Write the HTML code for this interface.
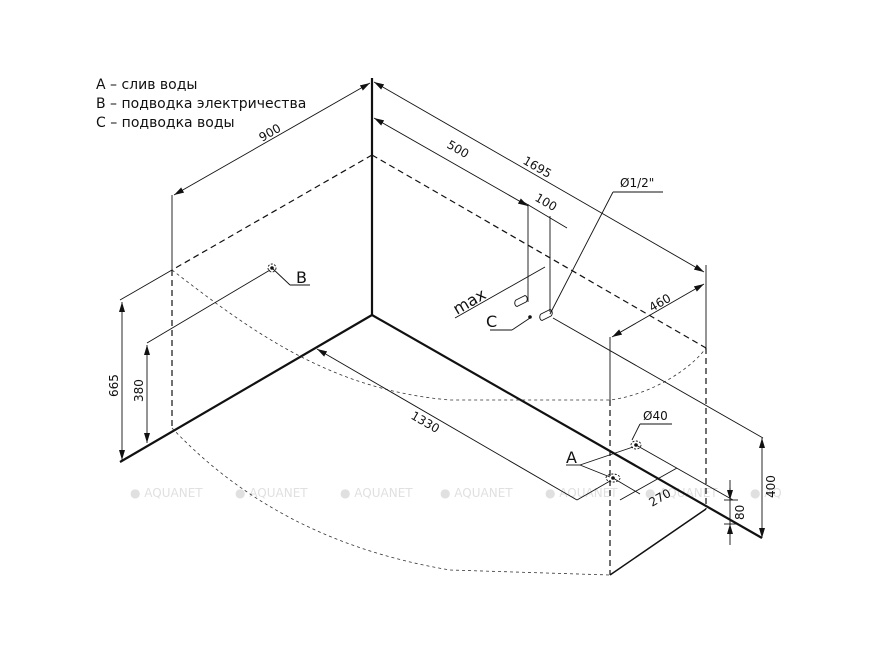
<!DOCTYPE html>
<html><head><meta charset="utf-8"><style>
html,body{margin:0;padding:0;background:#fff}
svg{display:block}
text{font-family:"DejaVu Sans","Liberation Sans",sans-serif;fill:#111}
text.wm{fill:#e0e0e0}
</style></head><body>
<svg width="872" height="654" viewBox="0 0 872 654" xmlns="http://www.w3.org/2000/svg">
<defs>
<marker id="a" viewBox="0 0 10 6" refX="10" refY="3" markerWidth="10" markerHeight="6" orient="auto-start-reverse" markerUnits="userSpaceOnUse"><path d="M0,0 L10,3 L0,6 z" fill="#111"/></marker>
</defs>
<g font-size="14">
<text x="96" y="89">A – слив воды</text>
<text x="96" y="108">B – подводка электричества</text>
<text x="96" y="127">C – подводка воды</text>
</g>
<g font-size="12">
<text class="wm" x="130" y="497">● AQUANET</text><text class="wm" x="235" y="497">● AQUANET</text><text class="wm" x="340" y="497">● AQUANET</text><text class="wm" x="440" y="497">● AQUANET</text><text class="wm" x="545" y="497">● AQUANET</text><text class="wm" x="645" y="497">● AQUANET</text><text class="wm" x="750" y="497">● AQ</text>
</g>
<g stroke="#111" stroke-width="2.2" fill="none">
<line x1="372" y1="78" x2="372" y2="315"/>
<line x1="372" y1="315" x2="120" y2="462"/>
<line x1="372" y1="315" x2="762" y2="538"/>
<line x1="610" y1="575" x2="706" y2="509" stroke-width="1.5"/>
</g>
<g stroke="#111" stroke-width="1.2" fill="none" stroke-dasharray="6,4">
<line x1="372" y1="155" x2="172" y2="270"/>
<line x1="372" y1="155" x2="706" y2="348"/>
<line x1="172" y1="270" x2="172" y2="428"/>
<line x1="706" y1="348" x2="706" y2="509"/>
<line x1="610" y1="400" x2="610" y2="575"/>
</g>
<g stroke="#333" stroke-width="0.8" fill="none" stroke-dasharray="3,3">
<path d="M172,270 C250,330 330,390 450,400 L610,400 C650,395 690,370 706,348"/>
<path d="M172,428 C240,500 330,550 450,570 L610,575"/>
</g>
<g stroke="#111" stroke-width="0.9" fill="none">
<line x1="370" y1="83" x2="174" y2="195" marker-start="url(#a)" marker-end="url(#a)"/>
<line x1="172" y1="195" x2="172" y2="270"/>
<line x1="374" y1="82" x2="704" y2="272" marker-start="url(#a)" marker-end="url(#a)"/>
<line x1="374" y1="118" x2="528" y2="206" marker-start="url(#a)" marker-end="url(#a)"/>
<line x1="706" y1="265" x2="706" y2="348"/>
<line x1="120" y1="300" x2="172" y2="270"/>
<line x1="122" y1="302" x2="122" y2="460" marker-start="url(#a)" marker-end="url(#a)"/>
<line x1="147" y1="343" x2="270" y2="270"/>
<line x1="147" y1="345" x2="147" y2="443" marker-start="url(#a)" marker-end="url(#a)"/>
<line x1="272" y1="268" x2="290" y2="285"/><line x1="290" y1="285" x2="310" y2="285"/>
<circle cx="272" cy="268" r="4" stroke-dasharray="2,1.5"/>
<line x1="317" y1="349" x2="577" y2="500" marker-start="url(#a)"/>
<line x1="577" y1="500" x2="610" y2="481"/>
<line x1="528" y1="204" x2="528" y2="302"/>
<line x1="550" y1="216" x2="550" y2="312"/>
<line x1="520" y1="200" x2="567" y2="228"/>
<line x1="455" y1="318" x2="545" y2="267"/>
<path d="M516,300 l8,-4 a2,3 0 0 1 2,6 l-8,4 a2,3 0 0 1 -2,-6z"/>
<path d="M541,314 l8,-4 a2,3 0 0 1 2,6 l-8,4 a2,3 0 0 1 -2,-6z"/>
<line x1="490" y1="330" x2="512" y2="330"/><line x1="512" y1="330" x2="530" y2="318"/>
<line x1="550" y1="314" x2="613" y2="192"/><line x1="613" y1="192" x2="663" y2="192"/>
<line x1="553" y1="318" x2="763" y2="438"/>
<line x1="612" y1="337" x2="704" y2="284" marker-start="url(#a)" marker-end="url(#a)"/>
<line x1="610" y1="337" x2="610" y2="400"/>
<line x1="762" y1="438" x2="762" y2="538" marker-start="url(#a)" marker-end="url(#a)"/>
<line x1="636" y1="445" x2="733" y2="500"/>
<line x1="613" y1="478" x2="640" y2="494"/>
<line x1="620" y1="500" x2="677" y2="468"/>
<line x1="730" y1="480" x2="730" y2="545"/>
<line x1="730" y1="488" x2="730" y2="500" marker-end="url(#a)"/>
<line x1="730" y1="535" x2="730" y2="524" marker-end="url(#a)"/>
<line x1="724" y1="500" x2="738" y2="500"/>
<line x1="724" y1="524" x2="738" y2="524"/>
<line x1="566" y1="465" x2="580" y2="465"/>
<line x1="580" y1="465" x2="633" y2="447"/>
<line x1="580" y1="465" x2="610" y2="477"/>
<line x1="632" y1="440" x2="640" y2="424"/><line x1="640" y1="424" x2="672" y2="424"/>
<ellipse cx="636" cy="445" rx="5" ry="4" stroke-dasharray="2,1.5"/>
<ellipse cx="613" cy="478" rx="7" ry="4" stroke-dasharray="2,1.5"/>
</g>
<g fill="#111"><circle cx="272" cy="268" r="1.8"/><circle cx="530" cy="317" r="1.8"/><circle cx="636" cy="445" r="1.8"/><circle cx="613" cy="478" r="1.8"/></g>
<g font-size="12">
<text transform="translate(262,142) rotate(-30)">900</text>
<text transform="translate(446,147) rotate(30)">500</text>
<text transform="translate(522,163) rotate(30)">1695</text>
<text transform="translate(534,200) rotate(30)">100</text>
<text x="620" y="187">Ø1/2"</text>
<text transform="translate(652,312) rotate(-30)">460</text>
<text transform="translate(118,397) rotate(-90)">665</text>
<text transform="translate(143,402) rotate(-90)">380</text>
<text transform="translate(410,418) rotate(30)">1330</text>
<text x="643" y="420">Ø40</text>
<text transform="translate(652,507) rotate(-30)">270</text>
<text transform="translate(744,520) rotate(-90)">80</text>
<text transform="translate(775,498) rotate(-90)">400</text>
</g>
<g font-size="16">
<text x="296" y="283">B</text>
<text x="486" y="327">C</text>
<text x="566" y="463">A</text>
<text transform="translate(457,315) rotate(-30)">max</text>
</g>
</svg>
</body></html>
